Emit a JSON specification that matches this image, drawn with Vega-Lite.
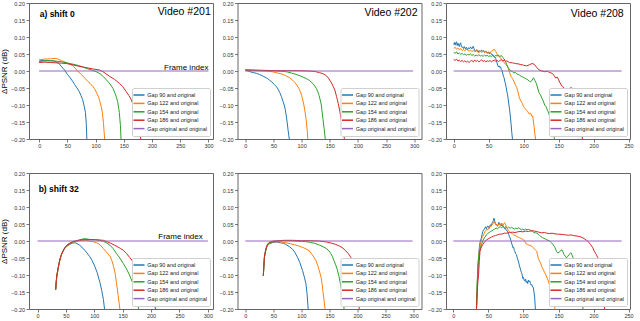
{
"$schema": "https://vega.github.io/schema/vega-lite/v6.json",
"background": "white",
"padding": {"left": 0, "top": 0, "right": 0, "bottom": 0},
"config": {
  "font": "Liberation Sans",
  "view": {"stroke": "#666", "strokeWidth": 1},
  "axis": {"grid": false, "domain": false, "tickSize": 3, "tickColor": "#555", "tickWidth": 0.8, "labelFontSize": 5.5, "labelColor": "#333", "labelPadding": 1.5, "labelFlush": false, "labelOverlap": false, "titleFontSize": 8, "titleFontWeight": "normal", "titleColor": "#000", "titlePadding": 2},
  "legend": {"orient": "bottom-right", "offset": 3, "title": null, "symbolType": "M-1.7,0H1.7", "symbolSize": 42, "symbolStrokeWidth": 1.5, "labelFontSize": 5.5, "labelOffset": 4.3, "rowPadding": 0.4, "padding": 3, "fillColor": "white", "strokeColor": "#d0d0d0", "cornerRadius": 1.5, "labelColor": "#222", "labelLimit": 200}
},
"datasets": {
"p1": [
{"gap":"90","frame":0,"dpsnr":0.029},{"gap":"90","frame":5,"dpsnr":0.031},{"gap":"90","frame":10,"dpsnr":0.030},{"gap":"90","frame":15,"dpsnr":0.031},{"gap":"90","frame":20,"dpsnr":0.030},{"gap":"90","frame":25,"dpsnr":0.030},{"gap":"90","frame":30,"dpsnr":0.027},{"gap":"90","frame":35,"dpsnr":0.022},{"gap":"90","frame":40,"dpsnr":0.012},{"gap":"90","frame":45,"dpsnr":0.003},{"gap":"90","frame":50,"dpsnr":-0.010},{"gap":"90","frame":55,"dpsnr":-0.020},{"gap":"90","frame":60,"dpsnr":-0.032},{"gap":"90","frame":63,"dpsnr":-0.040},{"gap":"90","frame":67,"dpsnr":-0.050},{"gap":"90","frame":71,"dpsnr":-0.060},{"gap":"90","frame":74,"dpsnr":-0.072},{"gap":"90","frame":77,"dpsnr":-0.084},{"gap":"90","frame":80,"dpsnr":-0.105},{"gap":"90","frame":82,"dpsnr":-0.122},{"gap":"90","frame":83.5,"dpsnr":-0.155},{"gap":"90","frame":84.5,"dpsnr":-0.2},
{"gap":"122","frame":0,"dpsnr":0.033},{"gap":"122","frame":10,"dpsnr":0.035},{"gap":"122","frame":20,"dpsnr":0.036},{"gap":"122","frame":30,"dpsnr":0.037},{"gap":"122","frame":35,"dpsnr":0.034},{"gap":"122","frame":40,"dpsnr":0.030},{"gap":"122","frame":50,"dpsnr":0.024},{"gap":"122","frame":55,"dpsnr":0.020},{"gap":"122","frame":60,"dpsnr":0.015},{"gap":"122","frame":65,"dpsnr":0.006},{"gap":"122","frame":68,"dpsnr":0.0},{"gap":"122","frame":75,"dpsnr":-0.010},{"gap":"122","frame":80,"dpsnr":-0.020},{"gap":"122","frame":85,"dpsnr":-0.028},{"gap":"122","frame":90,"dpsnr":-0.036},{"gap":"122","frame":95,"dpsnr":-0.045},{"gap":"122","frame":98,"dpsnr":-0.052},{"gap":"122","frame":102,"dpsnr":-0.065},{"gap":"122","frame":105,"dpsnr":-0.076},{"gap":"122","frame":107,"dpsnr":-0.086},{"gap":"122","frame":110,"dpsnr":-0.105},{"gap":"122","frame":112,"dpsnr":-0.122},{"gap":"122","frame":114,"dpsnr":-0.155},{"gap":"122","frame":116,"dpsnr":-0.2},
{"gap":"154","frame":0,"dpsnr":0.028},{"gap":"154","frame":10,"dpsnr":0.030},{"gap":"154","frame":20,"dpsnr":0.030},{"gap":"154","frame":30,"dpsnr":0.029},{"gap":"154","frame":40,"dpsnr":0.027},{"gap":"154","frame":48,"dpsnr":0.024},{"gap":"154","frame":60,"dpsnr":0.020},{"gap":"154","frame":70,"dpsnr":0.016},{"gap":"154","frame":77,"dpsnr":0.012},{"gap":"154","frame":85,"dpsnr":0.007},{"gap":"154","frame":93,"dpsnr":0.003},{"gap":"154","frame":101,"dpsnr":-0.002},{"gap":"154","frame":108,"dpsnr":-0.008},{"gap":"154","frame":114,"dpsnr":-0.017},{"gap":"154","frame":119,"dpsnr":-0.026},{"gap":"154","frame":124,"dpsnr":-0.035},{"gap":"154","frame":128,"dpsnr":-0.044},{"gap":"154","frame":131,"dpsnr":-0.052},{"gap":"154","frame":134,"dpsnr":-0.064},{"gap":"154","frame":137,"dpsnr":-0.078},{"gap":"154","frame":139,"dpsnr":-0.090},{"gap":"154","frame":141,"dpsnr":-0.110},{"gap":"154","frame":142,"dpsnr":-0.122},{"gap":"154","frame":144,"dpsnr":-0.16},{"gap":"154","frame":145,"dpsnr":-0.2},
{"gap":"186","frame":0,"dpsnr":0.025},{"gap":"186","frame":10,"dpsnr":0.026},{"gap":"186","frame":20,"dpsnr":0.025},{"gap":"186","frame":30,"dpsnr":0.024},{"gap":"186","frame":40,"dpsnr":0.023},{"gap":"186","frame":48,"dpsnr":0.022},{"gap":"186","frame":60,"dpsnr":0.018},{"gap":"186","frame":70,"dpsnr":0.014},{"gap":"186","frame":83,"dpsnr":0.010},{"gap":"186","frame":95,"dpsnr":0.006},{"gap":"186","frame":107,"dpsnr":0.003},{"gap":"186","frame":115,"dpsnr":-0.004},{"gap":"186","frame":120,"dpsnr":-0.010},{"gap":"186","frame":125,"dpsnr":-0.016},{"gap":"186","frame":133,"dpsnr":-0.024},{"gap":"186","frame":142,"dpsnr":-0.036},{"gap":"186","frame":148,"dpsnr":-0.046},{"gap":"186","frame":154,"dpsnr":-0.060},{"gap":"186","frame":159,"dpsnr":-0.072},{"gap":"186","frame":163,"dpsnr":-0.084},{"gap":"186","frame":168,"dpsnr":-0.105},{"gap":"186","frame":172,"dpsnr":-0.13},{"gap":"186","frame":176,"dpsnr":-0.16},{"gap":"186","frame":180,"dpsnr":-0.2},
{"gap":"original","frame":0,"dpsnr":0},{"gap":"original","frame":100,"dpsnr":0},{"gap":"original","frame":200,"dpsnr":0},{"gap":"original","frame":300,"dpsnr":0}
],
"p2": [
{"gap":"90","frame":0,"dpsnr":0.002},{"gap":"90","frame":5,"dpsnr":0.0},{"gap":"90","frame":10,"dpsnr":-0.003},{"gap":"90","frame":15,"dpsnr":-0.005},{"gap":"90","frame":20,"dpsnr":-0.007},{"gap":"90","frame":25,"dpsnr":-0.010},{"gap":"90","frame":30,"dpsnr":-0.014},{"gap":"90","frame":35,"dpsnr":-0.018},{"gap":"90","frame":40,"dpsnr":-0.023},{"gap":"90","frame":43,"dpsnr":-0.027},{"gap":"90","frame":47,"dpsnr":-0.032},{"gap":"90","frame":51,"dpsnr":-0.039},{"gap":"90","frame":55,"dpsnr":-0.046},{"gap":"90","frame":58,"dpsnr":-0.053},{"gap":"90","frame":61,"dpsnr":-0.063},{"gap":"90","frame":64,"dpsnr":-0.075},{"gap":"90","frame":67,"dpsnr":-0.090},{"gap":"90","frame":69,"dpsnr":-0.100},{"gap":"90","frame":71,"dpsnr":-0.114},{"gap":"90","frame":73,"dpsnr":-0.135},{"gap":"90","frame":75,"dpsnr":-0.162},{"gap":"90","frame":76,"dpsnr":-0.175},{"gap":"90","frame":78,"dpsnr":-0.2},
{"gap":"122","frame":0,"dpsnr":0.003},{"gap":"122","frame":10,"dpsnr":0.002},{"gap":"122","frame":20,"dpsnr":0.001},{"gap":"122","frame":30,"dpsnr":0.0},{"gap":"122","frame":43,"dpsnr":-0.001},{"gap":"122","frame":50,"dpsnr":-0.003},{"gap":"122","frame":55,"dpsnr":-0.005},{"gap":"122","frame":60,"dpsnr":-0.007},{"gap":"122","frame":67,"dpsnr":-0.010},{"gap":"122","frame":72,"dpsnr":-0.014},{"gap":"122","frame":78,"dpsnr":-0.019},{"gap":"122","frame":84,"dpsnr":-0.027},{"gap":"122","frame":88,"dpsnr":-0.034},{"gap":"122","frame":92,"dpsnr":-0.043},{"gap":"122","frame":95,"dpsnr":-0.051},{"gap":"122","frame":98,"dpsnr":-0.062},{"gap":"122","frame":100,"dpsnr":-0.072},{"gap":"122","frame":102,"dpsnr":-0.085},{"gap":"122","frame":104,"dpsnr":-0.100},{"gap":"122","frame":106,"dpsnr":-0.120},{"gap":"122","frame":108,"dpsnr":-0.143},{"gap":"122","frame":110,"dpsnr":-0.175},{"gap":"122","frame":111,"dpsnr":-0.2},
{"gap":"154","frame":0,"dpsnr":0.003},{"gap":"154","frame":20,"dpsnr":0.002},{"gap":"154","frame":40,"dpsnr":0.001},{"gap":"154","frame":55,"dpsnr":0.0},{"gap":"154","frame":67,"dpsnr":-0.001},{"gap":"154","frame":75,"dpsnr":-0.003},{"gap":"154","frame":82,"dpsnr":-0.006},{"gap":"154","frame":90,"dpsnr":-0.010},{"gap":"154","frame":97,"dpsnr":-0.014},{"gap":"154","frame":104,"dpsnr":-0.019},{"gap":"154","frame":110,"dpsnr":-0.024},{"gap":"154","frame":114,"dpsnr":-0.028},{"gap":"154","frame":118,"dpsnr":-0.034},{"gap":"154","frame":122,"dpsnr":-0.041},{"gap":"154","frame":126,"dpsnr":-0.051},{"gap":"154","frame":129,"dpsnr":-0.062},{"gap":"154","frame":131,"dpsnr":-0.072},{"gap":"154","frame":133,"dpsnr":-0.085},{"gap":"154","frame":135,"dpsnr":-0.100},{"gap":"154","frame":136,"dpsnr":-0.115},{"gap":"154","frame":138,"dpsnr":-0.143},{"gap":"154","frame":140,"dpsnr":-0.17},{"gap":"154","frame":142,"dpsnr":-0.2},
{"gap":"186","frame":0,"dpsnr":0.003},{"gap":"186","frame":30,"dpsnr":0.002},{"gap":"186","frame":60,"dpsnr":0.001},{"gap":"186","frame":90,"dpsnr":0.001},{"gap":"186","frame":114,"dpsnr":0.0},{"gap":"186","frame":125,"dpsnr":-0.002},{"gap":"186","frame":132,"dpsnr":-0.005},{"gap":"186","frame":138,"dpsnr":-0.008},{"gap":"186","frame":143,"dpsnr":-0.013},{"gap":"186","frame":147,"dpsnr":-0.019},{"gap":"186","frame":150,"dpsnr":-0.027},{"gap":"186","frame":153,"dpsnr":-0.035},{"gap":"186","frame":156,"dpsnr":-0.045},{"gap":"186","frame":159,"dpsnr":-0.056},{"gap":"186","frame":162,"dpsnr":-0.075},{"gap":"186","frame":165,"dpsnr":-0.095},{"gap":"186","frame":168,"dpsnr":-0.12},{"gap":"186","frame":171,"dpsnr":-0.15},{"gap":"186","frame":174,"dpsnr":-0.18},{"gap":"186","frame":176,"dpsnr":-0.2},
{"gap":"original","frame":0,"dpsnr":0},{"gap":"original","frame":100,"dpsnr":0},{"gap":"original","frame":200,"dpsnr":0},{"gap":"original","frame":298,"dpsnr":0}
],
"p3": [
{"gap":"90","frame":0,"dpsnr":0.078},{"gap":"90","frame":1,"dpsnr":0.084},{"gap":"90","frame":2,"dpsnr":0.076},{"gap":"90","frame":3,"dpsnr":0.083},{"gap":"90","frame":4,"dpsnr":0.086},{"gap":"90","frame":5,"dpsnr":0.075},{"gap":"90","frame":6,"dpsnr":0.082},{"gap":"90","frame":8,"dpsnr":0.072},{"gap":"90","frame":9,"dpsnr":0.080},{"gap":"90","frame":10,"dpsnr":0.083},{"gap":"90","frame":11,"dpsnr":0.071},{"gap":"90","frame":13,"dpsnr":0.070},{"gap":"90","frame":14,"dpsnr":0.066},{"gap":"90","frame":15,"dpsnr":0.072},{"gap":"90","frame":17,"dpsnr":0.064},{"gap":"90","frame":18,"dpsnr":0.070},{"gap":"90","frame":20,"dpsnr":0.063},{"gap":"90","frame":21,"dpsnr":0.068},{"gap":"90","frame":23,"dpsnr":0.066},{"gap":"90","frame":24,"dpsnr":0.071},{"gap":"90","frame":26,"dpsnr":0.065},{"gap":"90","frame":28,"dpsnr":0.073},{"gap":"90","frame":29,"dpsnr":0.066},{"gap":"90","frame":30,"dpsnr":0.060},{"gap":"90","frame":32,"dpsnr":0.058},{"gap":"90","frame":33,"dpsnr":0.063},{"gap":"90","frame":35,"dpsnr":0.055},{"gap":"90","frame":36,"dpsnr":0.060},{"gap":"90","frame":38,"dpsnr":0.057},{"gap":"90","frame":40,"dpsnr":0.062},{"gap":"90","frame":41,"dpsnr":0.056},{"gap":"90","frame":43,"dpsnr":0.060},{"gap":"90","frame":44,"dpsnr":0.054},{"gap":"90","frame":46,"dpsnr":0.059},{"gap":"90","frame":48,"dpsnr":0.052},{"gap":"90","frame":49,"dpsnr":0.056},{"gap":"90","frame":51,"dpsnr":0.050},{"gap":"90","frame":52,"dpsnr":0.054},{"gap":"90","frame":54,"dpsnr":0.051},{"gap":"90","frame":55,"dpsnr":0.046},{"gap":"90","frame":56,"dpsnr":0.048},{"gap":"90","frame":58,"dpsnr":0.040},{"gap":"90","frame":59,"dpsnr":0.042},{"gap":"90","frame":60,"dpsnr":0.037},{"gap":"90","frame":61,"dpsnr":0.030},{"gap":"90","frame":62,"dpsnr":0.024},{"gap":"90","frame":63,"dpsnr":0.016},{"gap":"90","frame":64,"dpsnr":0.012},{"gap":"90","frame":65,"dpsnr":0.015},{"gap":"90","frame":66,"dpsnr":0.010},{"gap":"90","frame":67,"dpsnr":0.012},{"gap":"90","frame":68,"dpsnr":0.005},{"gap":"90","frame":69,"dpsnr":0.002},{"gap":"90","frame":70,"dpsnr":-0.006},{"gap":"90","frame":71,"dpsnr":-0.015},{"gap":"90","frame":72,"dpsnr":-0.020},{"gap":"90","frame":73,"dpsnr":-0.030},{"gap":"90","frame":74,"dpsnr":-0.038},{"gap":"90","frame":75,"dpsnr":-0.048},{"gap":"90","frame":76,"dpsnr":-0.060},{"gap":"90","frame":77,"dpsnr":-0.070},{"gap":"90","frame":78,"dpsnr":-0.085},{"gap":"90","frame":79,"dpsnr":-0.100},{"gap":"90","frame":80,"dpsnr":-0.115},{"gap":"90","frame":81,"dpsnr":-0.135},{"gap":"90","frame":82,"dpsnr":-0.155},{"gap":"90","frame":83,"dpsnr":-0.180},{"gap":"90","frame":84,"dpsnr":-0.2},
{"gap":"122","frame":0,"dpsnr":0.066},{"gap":"122","frame":2,"dpsnr":0.070},{"gap":"122","frame":4,"dpsnr":0.064},{"gap":"122","frame":6,"dpsnr":0.068},{"gap":"122","frame":8,"dpsnr":0.062},{"gap":"122","frame":10,"dpsnr":0.066},{"gap":"122","frame":12,"dpsnr":0.060},{"gap":"122","frame":14,"dpsnr":0.063},{"gap":"122","frame":16,"dpsnr":0.059},{"gap":"122","frame":18,"dpsnr":0.064},{"gap":"122","frame":20,"dpsnr":0.061},{"gap":"122","frame":22,"dpsnr":0.058},{"gap":"122","frame":24,"dpsnr":0.062},{"gap":"122","frame":26,"dpsnr":0.057},{"gap":"122","frame":28,"dpsnr":0.060},{"gap":"122","frame":30,"dpsnr":0.056},{"gap":"122","frame":32,"dpsnr":0.061},{"gap":"122","frame":34,"dpsnr":0.057},{"gap":"122","frame":36,"dpsnr":0.054},{"gap":"122","frame":38,"dpsnr":0.058},{"gap":"122","frame":40,"dpsnr":0.055},{"gap":"122","frame":42,"dpsnr":0.060},{"gap":"122","frame":44,"dpsnr":0.054},{"gap":"122","frame":46,"dpsnr":0.057},{"gap":"122","frame":48,"dpsnr":0.053},{"gap":"122","frame":50,"dpsnr":0.056},{"gap":"122","frame":52,"dpsnr":0.054},{"gap":"122","frame":54,"dpsnr":0.058},{"gap":"122","frame":56,"dpsnr":0.061},{"gap":"122","frame":58,"dpsnr":0.064},{"gap":"122","frame":60,"dpsnr":0.058},{"gap":"122","frame":62,"dpsnr":0.050},{"gap":"122","frame":64,"dpsnr":0.043},{"gap":"122","frame":66,"dpsnr":0.040},{"gap":"122","frame":68,"dpsnr":0.036},{"gap":"122","frame":70,"dpsnr":0.030},{"gap":"122","frame":72,"dpsnr":0.025},{"gap":"122","frame":74,"dpsnr":0.020},{"gap":"122","frame":76,"dpsnr":0.017},{"gap":"122","frame":78,"dpsnr":0.008},{"gap":"122","frame":80,"dpsnr":-0.005},{"gap":"122","frame":82,"dpsnr":-0.016},{"gap":"122","frame":84,"dpsnr":-0.022},{"gap":"122","frame":86,"dpsnr":-0.030},{"gap":"122","frame":88,"dpsnr":-0.040},{"gap":"122","frame":90,"dpsnr":-0.048},{"gap":"122","frame":92,"dpsnr":-0.062},{"gap":"122","frame":94,"dpsnr":-0.080},{"gap":"122","frame":96,"dpsnr":-0.088},{"gap":"122","frame":98,"dpsnr":-0.095},{"gap":"122","frame":100,"dpsnr":-0.105},{"gap":"122","frame":102,"dpsnr":-0.110},{"gap":"122","frame":104,"dpsnr":-0.115},{"gap":"122","frame":106,"dpsnr":-0.120},{"gap":"122","frame":108,"dpsnr":-0.127},{"gap":"122","frame":110,"dpsnr":-0.124},{"gap":"122","frame":112,"dpsnr":-0.134},{"gap":"122","frame":113,"dpsnr":-0.132},{"gap":"122","frame":114,"dpsnr":-0.150},{"gap":"122","frame":115,"dpsnr":-0.165},{"gap":"122","frame":116,"dpsnr":-0.185},{"gap":"122","frame":117,"dpsnr":-0.2},
{"gap":"154","frame":0,"dpsnr":0.055},{"gap":"154","frame":2,"dpsnr":0.052},{"gap":"154","frame":4,"dpsnr":0.056},{"gap":"154","frame":6,"dpsnr":0.050},{"gap":"154","frame":8,"dpsnr":0.053},{"gap":"154","frame":10,"dpsnr":0.049},{"gap":"154","frame":12,"dpsnr":0.052},{"gap":"154","frame":14,"dpsnr":0.048},{"gap":"154","frame":16,"dpsnr":0.050},{"gap":"154","frame":18,"dpsnr":0.046},{"gap":"154","frame":20,"dpsnr":0.049},{"gap":"154","frame":22,"dpsnr":0.047},{"gap":"154","frame":24,"dpsnr":0.050},{"gap":"154","frame":26,"dpsnr":0.046},{"gap":"154","frame":28,"dpsnr":0.048},{"gap":"154","frame":30,"dpsnr":0.044},{"gap":"154","frame":32,"dpsnr":0.047},{"gap":"154","frame":34,"dpsnr":0.045},{"gap":"154","frame":36,"dpsnr":0.048},{"gap":"154","frame":38,"dpsnr":0.044},{"gap":"154","frame":40,"dpsnr":0.046},{"gap":"154","frame":42,"dpsnr":0.043},{"gap":"154","frame":44,"dpsnr":0.047},{"gap":"154","frame":46,"dpsnr":0.044},{"gap":"154","frame":48,"dpsnr":0.046},{"gap":"154","frame":50,"dpsnr":0.043},{"gap":"154","frame":52,"dpsnr":0.045},{"gap":"154","frame":54,"dpsnr":0.042},{"gap":"154","frame":56,"dpsnr":0.046},{"gap":"154","frame":58,"dpsnr":0.043},{"gap":"154","frame":60,"dpsnr":0.046},{"gap":"154","frame":62,"dpsnr":0.044},{"gap":"154","frame":64,"dpsnr":0.047},{"gap":"154","frame":66,"dpsnr":0.042},{"gap":"154","frame":68,"dpsnr":0.046},{"gap":"154","frame":70,"dpsnr":0.040},{"gap":"154","frame":72,"dpsnr":0.036},{"gap":"154","frame":74,"dpsnr":0.028},{"gap":"154","frame":76,"dpsnr":0.018},{"gap":"154","frame":78,"dpsnr":0.010},{"gap":"154","frame":80,"dpsnr":0.003},{"gap":"154","frame":82,"dpsnr":0.000},{"gap":"154","frame":84,"dpsnr":-0.002},{"gap":"154","frame":86,"dpsnr":-0.006},{"gap":"154","frame":88,"dpsnr":-0.004},{"gap":"154","frame":90,"dpsnr":-0.008},{"gap":"154","frame":92,"dpsnr":-0.010},{"gap":"154","frame":94,"dpsnr":-0.012},{"gap":"154","frame":96,"dpsnr":-0.015},{"gap":"154","frame":98,"dpsnr":-0.017},{"gap":"154","frame":100,"dpsnr":-0.019},{"gap":"154","frame":102,"dpsnr":-0.021},{"gap":"154","frame":104,"dpsnr":-0.024},{"gap":"154","frame":106,"dpsnr":-0.026},{"gap":"154","frame":108,"dpsnr":-0.030},{"gap":"154","frame":110,"dpsnr":-0.032},{"gap":"154","frame":112,"dpsnr":-0.027},{"gap":"154","frame":114,"dpsnr":-0.020},{"gap":"154","frame":116,"dpsnr":-0.028},{"gap":"154","frame":118,"dpsnr":-0.036},{"gap":"154","frame":120,"dpsnr":-0.050},{"gap":"154","frame":122,"dpsnr":-0.064},{"gap":"154","frame":124,"dpsnr":-0.070},{"gap":"154","frame":126,"dpsnr":-0.080},{"gap":"154","frame":128,"dpsnr":-0.088},{"gap":"154","frame":130,"dpsnr":-0.100},{"gap":"154","frame":132,"dpsnr":-0.105},{"gap":"154","frame":134,"dpsnr":-0.115},{"gap":"154","frame":136,"dpsnr":-0.125},{"gap":"154","frame":138,"dpsnr":-0.14},{"gap":"154","frame":140,"dpsnr":-0.155},{"gap":"154","frame":142,"dpsnr":-0.175},{"gap":"154","frame":144,"dpsnr":-0.2},
{"gap":"186","frame":0,"dpsnr":0.034},{"gap":"186","frame":2,"dpsnr":0.031},{"gap":"186","frame":4,"dpsnr":0.035},{"gap":"186","frame":6,"dpsnr":0.029},{"gap":"186","frame":8,"dpsnr":0.032},{"gap":"186","frame":10,"dpsnr":0.028},{"gap":"186","frame":12,"dpsnr":0.031},{"gap":"186","frame":14,"dpsnr":0.027},{"gap":"186","frame":16,"dpsnr":0.030},{"gap":"186","frame":18,"dpsnr":0.026},{"gap":"186","frame":20,"dpsnr":0.029},{"gap":"186","frame":22,"dpsnr":0.025},{"gap":"186","frame":24,"dpsnr":0.029},{"gap":"186","frame":26,"dpsnr":0.031},{"gap":"186","frame":28,"dpsnr":0.027},{"gap":"186","frame":30,"dpsnr":0.032},{"gap":"186","frame":32,"dpsnr":0.028},{"gap":"186","frame":34,"dpsnr":0.031},{"gap":"186","frame":36,"dpsnr":0.027},{"gap":"186","frame":38,"dpsnr":0.030},{"gap":"186","frame":40,"dpsnr":0.033},{"gap":"186","frame":42,"dpsnr":0.028},{"gap":"186","frame":44,"dpsnr":0.031},{"gap":"186","frame":46,"dpsnr":0.027},{"gap":"186","frame":48,"dpsnr":0.030},{"gap":"186","frame":50,"dpsnr":0.028},{"gap":"186","frame":52,"dpsnr":0.031},{"gap":"186","frame":54,"dpsnr":0.027},{"gap":"186","frame":56,"dpsnr":0.030},{"gap":"186","frame":58,"dpsnr":0.032},{"gap":"186","frame":60,"dpsnr":0.029},{"gap":"186","frame":62,"dpsnr":0.031},{"gap":"186","frame":64,"dpsnr":0.028},{"gap":"186","frame":66,"dpsnr":0.031},{"gap":"186","frame":68,"dpsnr":0.033},{"gap":"186","frame":70,"dpsnr":0.030},{"gap":"186","frame":72,"dpsnr":0.032},{"gap":"186","frame":74,"dpsnr":0.028},{"gap":"186","frame":76,"dpsnr":0.030},{"gap":"186","frame":78,"dpsnr":0.027},{"gap":"186","frame":80,"dpsnr":0.025},{"gap":"186","frame":84,"dpsnr":0.024},{"gap":"186","frame":88,"dpsnr":0.022},{"gap":"186","frame":92,"dpsnr":0.021},{"gap":"186","frame":96,"dpsnr":0.019},{"gap":"186","frame":100,"dpsnr":0.017},{"gap":"186","frame":104,"dpsnr":0.015},{"gap":"186","frame":108,"dpsnr":0.018},{"gap":"186","frame":112,"dpsnr":0.022},{"gap":"186","frame":115,"dpsnr":0.020},{"gap":"186","frame":118,"dpsnr":0.012},{"gap":"186","frame":122,"dpsnr":0.003},{"gap":"186","frame":126,"dpsnr":0.000},{"gap":"186","frame":130,"dpsnr":-0.002},{"gap":"186","frame":134,"dpsnr":-0.001},{"gap":"186","frame":138,"dpsnr":-0.005},{"gap":"186","frame":141,"dpsnr":-0.007},{"gap":"186","frame":144,"dpsnr":-0.015},{"gap":"186","frame":146,"dpsnr":-0.021},{"gap":"186","frame":148,"dpsnr":-0.018},{"gap":"186","frame":150,"dpsnr":-0.026},{"gap":"186","frame":152,"dpsnr":-0.035},{"gap":"186","frame":155,"dpsnr":-0.045},{"gap":"186","frame":158,"dpsnr":-0.050},{"gap":"186","frame":160,"dpsnr":-0.055},{"gap":"186","frame":163,"dpsnr":-0.058},{"gap":"186","frame":166,"dpsnr":-0.052},{"gap":"186","frame":168,"dpsnr":-0.048},{"gap":"186","frame":170,"dpsnr":-0.055},{"gap":"186","frame":172,"dpsnr":-0.053},{"gap":"186","frame":174,"dpsnr":-0.066},{"gap":"186","frame":176,"dpsnr":-0.080},{"gap":"186","frame":178,"dpsnr":-0.100},{"gap":"186","frame":180,"dpsnr":-0.13},{"gap":"186","frame":182,"dpsnr":-0.165},{"gap":"186","frame":184,"dpsnr":-0.2},
{"gap":"original","frame":0,"dpsnr":0},{"gap":"original","frame":120,"dpsnr":0},{"gap":"original","frame":240,"dpsnr":0}
],
"p4": [
{"gap":"90","frame":32,"dpsnr":-0.143},{"gap":"90","frame":33,"dpsnr":-0.120},{"gap":"90","frame":34,"dpsnr":-0.104},{"gap":"90","frame":36,"dpsnr":-0.085},{"gap":"90","frame":38,"dpsnr":-0.066},{"gap":"90","frame":40,"dpsnr":-0.052},{"gap":"90","frame":42,"dpsnr":-0.041},{"gap":"90","frame":45,"dpsnr":-0.030},{"gap":"90","frame":48,"dpsnr":-0.022},{"gap":"90","frame":52,"dpsnr":-0.015},{"gap":"90","frame":57,"dpsnr":-0.010},{"gap":"90","frame":62,"dpsnr":-0.006},{"gap":"90","frame":66,"dpsnr":-0.005},{"gap":"90","frame":70,"dpsnr":-0.008},{"gap":"90","frame":74,"dpsnr":-0.012},{"gap":"90","frame":78,"dpsnr":-0.018},{"gap":"90","frame":83,"dpsnr":-0.027},{"gap":"90","frame":87,"dpsnr":-0.035},{"gap":"90","frame":92,"dpsnr":-0.046},{"gap":"90","frame":96,"dpsnr":-0.057},{"gap":"90","frame":101,"dpsnr":-0.075},{"gap":"90","frame":105,"dpsnr":-0.093},{"gap":"90","frame":110,"dpsnr":-0.123},{"gap":"90","frame":113,"dpsnr":-0.145},{"gap":"90","frame":116,"dpsnr":-0.172},{"gap":"90","frame":118,"dpsnr":-0.2},
{"gap":"122","frame":32,"dpsnr":-0.143},{"gap":"122","frame":33,"dpsnr":-0.120},{"gap":"122","frame":34,"dpsnr":-0.104},{"gap":"122","frame":36,"dpsnr":-0.085},{"gap":"122","frame":38,"dpsnr":-0.066},{"gap":"122","frame":40,"dpsnr":-0.052},{"gap":"122","frame":42,"dpsnr":-0.041},{"gap":"122","frame":45,"dpsnr":-0.030},{"gap":"122","frame":48,"dpsnr":-0.021},{"gap":"122","frame":52,"dpsnr":-0.013},{"gap":"122","frame":57,"dpsnr":-0.008},{"gap":"122","frame":62,"dpsnr":-0.004},{"gap":"122","frame":68,"dpsnr":-0.001},{"gap":"122","frame":75,"dpsnr":0.001},{"gap":"122","frame":80,"dpsnr":0.002},{"gap":"122","frame":86,"dpsnr":0.002},{"gap":"122","frame":92,"dpsnr":0.000},{"gap":"122","frame":98,"dpsnr":-0.002},{"gap":"122","frame":104,"dpsnr":-0.005},{"gap":"122","frame":110,"dpsnr":-0.011},{"gap":"122","frame":116,"dpsnr":-0.022},{"gap":"122","frame":120,"dpsnr":-0.030},{"gap":"122","frame":124,"dpsnr":-0.038},{"gap":"122","frame":128,"dpsnr":-0.046},{"gap":"122","frame":131,"dpsnr":-0.058},{"gap":"122","frame":134,"dpsnr":-0.075},{"gap":"122","frame":137,"dpsnr":-0.098},{"gap":"122","frame":139,"dpsnr":-0.123},{"gap":"122","frame":142,"dpsnr":-0.160},{"gap":"122","frame":145,"dpsnr":-0.2},
{"gap":"154","frame":32,"dpsnr":-0.143},{"gap":"154","frame":33,"dpsnr":-0.119},{"gap":"154","frame":34,"dpsnr":-0.102},{"gap":"154","frame":36,"dpsnr":-0.083},{"gap":"154","frame":38,"dpsnr":-0.065},{"gap":"154","frame":40,"dpsnr":-0.051},{"gap":"154","frame":42,"dpsnr":-0.040},{"gap":"154","frame":45,"dpsnr":-0.029},{"gap":"154","frame":48,"dpsnr":-0.020},{"gap":"154","frame":52,"dpsnr":-0.012},{"gap":"154","frame":57,"dpsnr":-0.007},{"gap":"154","frame":62,"dpsnr":-0.003},{"gap":"154","frame":68,"dpsnr":0.000},{"gap":"154","frame":74,"dpsnr":0.003},{"gap":"154","frame":80,"dpsnr":0.006},{"gap":"154","frame":84,"dpsnr":0.007},{"gap":"154","frame":90,"dpsnr":0.005},{"gap":"154","frame":96,"dpsnr":0.004},{"gap":"154","frame":104,"dpsnr":0.003},{"gap":"154","frame":110,"dpsnr":0.002},{"gap":"154","frame":116,"dpsnr":-0.001},{"gap":"154","frame":122,"dpsnr":-0.006},{"gap":"154","frame":128,"dpsnr":-0.013},{"gap":"154","frame":133,"dpsnr":-0.022},{"gap":"154","frame":139,"dpsnr":-0.037},{"gap":"154","frame":145,"dpsnr":-0.050},{"gap":"154","frame":151,"dpsnr":-0.066},{"gap":"154","frame":156,"dpsnr":-0.080},{"gap":"154","frame":162,"dpsnr":-0.100},{"gap":"154","frame":168,"dpsnr":-0.125},{"gap":"154","frame":173,"dpsnr":-0.155},{"gap":"154","frame":178,"dpsnr":-0.2},
{"gap":"186","frame":32,"dpsnr":-0.143},{"gap":"186","frame":33,"dpsnr":-0.118},{"gap":"186","frame":34,"dpsnr":-0.100},{"gap":"186","frame":36,"dpsnr":-0.082},{"gap":"186","frame":38,"dpsnr":-0.064},{"gap":"186","frame":40,"dpsnr":-0.050},{"gap":"186","frame":42,"dpsnr":-0.040},{"gap":"186","frame":45,"dpsnr":-0.029},{"gap":"186","frame":48,"dpsnr":-0.020},{"gap":"186","frame":52,"dpsnr":-0.012},{"gap":"186","frame":57,"dpsnr":-0.006},{"gap":"186","frame":62,"dpsnr":-0.002},{"gap":"186","frame":68,"dpsnr":0.001},{"gap":"186","frame":75,"dpsnr":0.003},{"gap":"186","frame":82,"dpsnr":0.004},{"gap":"186","frame":92,"dpsnr":0.004},{"gap":"186","frame":100,"dpsnr":0.004},{"gap":"186","frame":108,"dpsnr":0.003},{"gap":"186","frame":116,"dpsnr":0.002},{"gap":"186","frame":122,"dpsnr":-0.002},{"gap":"186","frame":128,"dpsnr":-0.006},{"gap":"186","frame":133,"dpsnr":-0.010},{"gap":"186","frame":140,"dpsnr":-0.016},{"gap":"186","frame":146,"dpsnr":-0.022},{"gap":"186","frame":151,"dpsnr":-0.027},{"gap":"186","frame":157,"dpsnr":-0.037},{"gap":"186","frame":162,"dpsnr":-0.048},{"gap":"186","frame":166,"dpsnr":-0.056},{"gap":"186","frame":172,"dpsnr":-0.070},{"gap":"186","frame":178,"dpsnr":-0.085},{"gap":"186","frame":185,"dpsnr":-0.105},{"gap":"186","frame":192,"dpsnr":-0.13},{"gap":"186","frame":198,"dpsnr":-0.15},{"gap":"186","frame":203,"dpsnr":-0.175},{"gap":"186","frame":208,"dpsnr":-0.2},
{"gap":"original","frame":0,"dpsnr":0},{"gap":"original","frame":100,"dpsnr":0},{"gap":"original","frame":200,"dpsnr":0},{"gap":"original","frame":300,"dpsnr":0}
],
"p5": [
{"gap":"90","frame":32,"dpsnr":-0.102},{"gap":"90","frame":33,"dpsnr":-0.075},{"gap":"90","frame":34,"dpsnr":-0.048},{"gap":"90","frame":36,"dpsnr":-0.030},{"gap":"90","frame":38,"dpsnr":-0.019},{"gap":"90","frame":40,"dpsnr":-0.012},{"gap":"90","frame":43,"dpsnr":-0.008},{"gap":"90","frame":48,"dpsnr":-0.005},{"gap":"90","frame":55,"dpsnr":-0.003},{"gap":"90","frame":62,"dpsnr":-0.005},{"gap":"90","frame":68,"dpsnr":-0.007},{"gap":"90","frame":72,"dpsnr":-0.010},{"gap":"90","frame":78,"dpsnr":-0.016},{"gap":"90","frame":84,"dpsnr":-0.024},{"gap":"90","frame":88,"dpsnr":-0.033},{"gap":"90","frame":93,"dpsnr":-0.048},{"gap":"90","frame":97,"dpsnr":-0.063},{"gap":"90","frame":102,"dpsnr":-0.087},{"gap":"90","frame":105,"dpsnr":-0.105},{"gap":"90","frame":108,"dpsnr":-0.126},{"gap":"90","frame":110,"dpsnr":-0.155},{"gap":"90","frame":112,"dpsnr":-0.2},
{"gap":"122","frame":32,"dpsnr":-0.102},{"gap":"122","frame":33,"dpsnr":-0.075},{"gap":"122","frame":34,"dpsnr":-0.048},{"gap":"122","frame":36,"dpsnr":-0.030},{"gap":"122","frame":38,"dpsnr":-0.018},{"gap":"122","frame":40,"dpsnr":-0.011},{"gap":"122","frame":44,"dpsnr":-0.006},{"gap":"122","frame":49,"dpsnr":-0.003},{"gap":"122","frame":56,"dpsnr":-0.002},{"gap":"122","frame":64,"dpsnr":-0.003},{"gap":"122","frame":72,"dpsnr":-0.005},{"gap":"122","frame":80,"dpsnr":-0.008},{"gap":"122","frame":88,"dpsnr":-0.011},{"gap":"122","frame":96,"dpsnr":-0.015},{"gap":"122","frame":104,"dpsnr":-0.020},{"gap":"122","frame":110,"dpsnr":-0.025},{"gap":"122","frame":114,"dpsnr":-0.029},{"gap":"122","frame":118,"dpsnr":-0.038},{"gap":"122","frame":122,"dpsnr":-0.047},{"gap":"122","frame":126,"dpsnr":-0.058},{"gap":"122","frame":129,"dpsnr":-0.072},{"gap":"122","frame":132,"dpsnr":-0.088},{"gap":"122","frame":135,"dpsnr":-0.107},{"gap":"122","frame":137,"dpsnr":-0.128},{"gap":"122","frame":138,"dpsnr":-0.145},{"gap":"122","frame":140,"dpsnr":-0.170},{"gap":"122","frame":142,"dpsnr":-0.2},
{"gap":"154","frame":32,"dpsnr":-0.102},{"gap":"154","frame":33,"dpsnr":-0.074},{"gap":"154","frame":34,"dpsnr":-0.047},{"gap":"154","frame":36,"dpsnr":-0.029},{"gap":"154","frame":38,"dpsnr":-0.017},{"gap":"154","frame":40,"dpsnr":-0.010},{"gap":"154","frame":44,"dpsnr":-0.005},{"gap":"154","frame":50,"dpsnr":-0.002},{"gap":"154","frame":58,"dpsnr":0.0},{"gap":"154","frame":66,"dpsnr":0.001},{"gap":"154","frame":76,"dpsnr":0.001},{"gap":"154","frame":88,"dpsnr":0.0},{"gap":"154","frame":100,"dpsnr":-0.001},{"gap":"154","frame":108,"dpsnr":-0.002},{"gap":"154","frame":116,"dpsnr":-0.004},{"gap":"154","frame":124,"dpsnr":-0.007},{"gap":"154","frame":132,"dpsnr":-0.012},{"gap":"154","frame":140,"dpsnr":-0.018},{"gap":"154","frame":145,"dpsnr":-0.023},{"gap":"154","frame":149,"dpsnr":-0.029},{"gap":"154","frame":152,"dpsnr":-0.036},{"gap":"154","frame":155,"dpsnr":-0.045},{"gap":"154","frame":158,"dpsnr":-0.058},{"gap":"154","frame":161,"dpsnr":-0.070},{"gap":"154","frame":164,"dpsnr":-0.085},{"gap":"154","frame":167,"dpsnr":-0.105},{"gap":"154","frame":170,"dpsnr":-0.13},{"gap":"154","frame":173,"dpsnr":-0.16},{"gap":"154","frame":176,"dpsnr":-0.2},
{"gap":"186","frame":32,"dpsnr":-0.102},{"gap":"186","frame":33,"dpsnr":-0.073},{"gap":"186","frame":34,"dpsnr":-0.046},{"gap":"186","frame":36,"dpsnr":-0.027},{"gap":"186","frame":38,"dpsnr":-0.015},{"gap":"186","frame":40,"dpsnr":-0.008},{"gap":"186","frame":44,"dpsnr":-0.003},{"gap":"186","frame":50,"dpsnr":0.000},{"gap":"186","frame":60,"dpsnr":0.001},{"gap":"186","frame":70,"dpsnr":0.002},{"gap":"186","frame":84,"dpsnr":0.002},{"gap":"186","frame":100,"dpsnr":0.001},{"gap":"186","frame":116,"dpsnr":0.001},{"gap":"186","frame":132,"dpsnr":0.000},{"gap":"186","frame":145,"dpsnr":-0.003},{"gap":"186","frame":153,"dpsnr":-0.006},{"gap":"186","frame":161,"dpsnr":-0.010},{"gap":"186","frame":168,"dpsnr":-0.015},{"gap":"186","frame":174,"dpsnr":-0.021},{"gap":"186","frame":179,"dpsnr":-0.029},{"gap":"186","frame":184,"dpsnr":-0.038},{"gap":"186","frame":188,"dpsnr":-0.048},{"gap":"186","frame":191,"dpsnr":-0.058},{"gap":"186","frame":194,"dpsnr":-0.068},{"gap":"186","frame":197,"dpsnr":-0.085},{"gap":"186","frame":199,"dpsnr":-0.105},{"gap":"186","frame":201,"dpsnr":-0.14},{"gap":"186","frame":203,"dpsnr":-0.2},
{"gap":"original","frame":0,"dpsnr":0},{"gap":"original","frame":100,"dpsnr":0},{"gap":"original","frame":200,"dpsnr":0},{"gap":"original","frame":298,"dpsnr":0}
],
"p6": [
{"gap":"90","frame":33,"dpsnr":-0.2},{"gap":"90","frame":34,"dpsnr":-0.14},{"gap":"90","frame":35,"dpsnr":-0.088},{"gap":"90","frame":36,"dpsnr":-0.05},{"gap":"90","frame":37,"dpsnr":-0.020},{"gap":"90","frame":38,"dpsnr":-0.005},{"gap":"90","frame":39,"dpsnr":0.004},{"gap":"90","frame":40,"dpsnr":0.009},{"gap":"90","frame":41,"dpsnr":0.020},{"gap":"90","frame":42,"dpsnr":0.028},{"gap":"90","frame":43,"dpsnr":0.032},{"gap":"90","frame":44,"dpsnr":0.035},{"gap":"90","frame":45,"dpsnr":0.038},{"gap":"90","frame":46,"dpsnr":0.042},{"gap":"90","frame":47,"dpsnr":0.036},{"gap":"90","frame":48,"dpsnr":0.041},{"gap":"90","frame":49,"dpsnr":0.044},{"gap":"90","frame":50,"dpsnr":0.043},{"gap":"90","frame":51,"dpsnr":0.037},{"gap":"90","frame":52,"dpsnr":0.045},{"gap":"90","frame":53,"dpsnr":0.048},{"gap":"90","frame":54,"dpsnr":0.044},{"gap":"90","frame":55,"dpsnr":0.052},{"gap":"90","frame":56,"dpsnr":0.055},{"gap":"90","frame":57,"dpsnr":0.060},{"gap":"90","frame":58,"dpsnr":0.067},{"gap":"90","frame":59,"dpsnr":0.058},{"gap":"90","frame":60,"dpsnr":0.052},{"gap":"90","frame":61,"dpsnr":0.049},{"gap":"90","frame":62,"dpsnr":0.047},{"gap":"90","frame":63,"dpsnr":0.044},{"gap":"90","frame":64,"dpsnr":0.050},{"gap":"90","frame":65,"dpsnr":0.055},{"gap":"90","frame":66,"dpsnr":0.052},{"gap":"90","frame":67,"dpsnr":0.046},{"gap":"90","frame":68,"dpsnr":0.050},{"gap":"90","frame":69,"dpsnr":0.044},{"gap":"90","frame":70,"dpsnr":0.047},{"gap":"90","frame":71,"dpsnr":0.043},{"gap":"90","frame":72,"dpsnr":0.040},{"gap":"90","frame":73,"dpsnr":0.036},{"gap":"90","frame":74,"dpsnr":0.038},{"gap":"90","frame":75,"dpsnr":0.033},{"gap":"90","frame":77,"dpsnr":0.030},{"gap":"90","frame":78,"dpsnr":0.025},{"gap":"90","frame":79,"dpsnr":0.020},{"gap":"90","frame":80,"dpsnr":0.012},{"gap":"90","frame":81,"dpsnr":0.009},{"gap":"90","frame":82,"dpsnr":0.002},{"gap":"90","frame":83,"dpsnr":-0.006},{"gap":"90","frame":84,"dpsnr":-0.012},{"gap":"90","frame":85,"dpsnr":-0.020},{"gap":"90","frame":86,"dpsnr":-0.018},{"gap":"90","frame":87,"dpsnr":-0.028},{"gap":"90","frame":88,"dpsnr":-0.032},{"gap":"90","frame":89,"dpsnr":-0.038},{"gap":"90","frame":90,"dpsnr":-0.040},{"gap":"90","frame":91,"dpsnr":-0.048},{"gap":"90","frame":92,"dpsnr":-0.055},{"gap":"90","frame":93,"dpsnr":-0.062},{"gap":"90","frame":94,"dpsnr":-0.070},{"gap":"90","frame":95,"dpsnr":-0.078},{"gap":"90","frame":96,"dpsnr":-0.085},{"gap":"90","frame":97,"dpsnr":-0.092},{"gap":"90","frame":98,"dpsnr":-0.098},{"gap":"90","frame":99,"dpsnr":-0.110},{"gap":"90","frame":100,"dpsnr":-0.107},{"gap":"90","frame":101,"dpsnr":-0.115},{"gap":"90","frame":102,"dpsnr":-0.118},{"gap":"90","frame":103,"dpsnr":-0.112},{"gap":"90","frame":104,"dpsnr":-0.122},{"gap":"90","frame":105,"dpsnr":-0.118},{"gap":"90","frame":106,"dpsnr":-0.125},{"gap":"90","frame":107,"dpsnr":-0.115},{"gap":"90","frame":108,"dpsnr":-0.120},{"gap":"90","frame":109,"dpsnr":-0.117},{"gap":"90","frame":110,"dpsnr":-0.125},{"gap":"90","frame":111,"dpsnr":-0.130},{"gap":"90","frame":112,"dpsnr":-0.128},{"gap":"90","frame":113,"dpsnr":-0.135},{"gap":"90","frame":114,"dpsnr":-0.136},{"gap":"90","frame":115,"dpsnr":-0.150},{"gap":"90","frame":116,"dpsnr":-0.165},{"gap":"90","frame":117,"dpsnr":-0.2},
{"gap":"122","frame":33,"dpsnr":-0.2},{"gap":"122","frame":34,"dpsnr":-0.13},{"gap":"122","frame":35,"dpsnr":-0.078},{"gap":"122","frame":36,"dpsnr":-0.045},{"gap":"122","frame":37,"dpsnr":-0.030},{"gap":"122","frame":38,"dpsnr":-0.015},{"gap":"122","frame":39,"dpsnr":-0.005},{"gap":"122","frame":40,"dpsnr":0.002},{"gap":"122","frame":41,"dpsnr":0.010},{"gap":"122","frame":42,"dpsnr":0.014},{"gap":"122","frame":43,"dpsnr":0.018},{"gap":"122","frame":44,"dpsnr":0.022},{"gap":"122","frame":45,"dpsnr":0.027},{"gap":"122","frame":46,"dpsnr":0.030},{"gap":"122","frame":47,"dpsnr":0.033},{"gap":"122","frame":48,"dpsnr":0.035},{"gap":"122","frame":49,"dpsnr":0.032},{"gap":"122","frame":50,"dpsnr":0.038},{"gap":"122","frame":51,"dpsnr":0.040},{"gap":"122","frame":52,"dpsnr":0.044},{"gap":"122","frame":53,"dpsnr":0.041},{"gap":"122","frame":54,"dpsnr":0.045},{"gap":"122","frame":55,"dpsnr":0.047},{"gap":"122","frame":56,"dpsnr":0.050},{"gap":"122","frame":57,"dpsnr":0.055},{"gap":"122","frame":58,"dpsnr":0.052},{"gap":"122","frame":59,"dpsnr":0.057},{"gap":"122","frame":60,"dpsnr":0.050},{"gap":"122","frame":61,"dpsnr":0.046},{"gap":"122","frame":62,"dpsnr":0.049},{"gap":"122","frame":63,"dpsnr":0.043},{"gap":"122","frame":64,"dpsnr":0.047},{"gap":"122","frame":65,"dpsnr":0.050},{"gap":"122","frame":66,"dpsnr":0.047},{"gap":"122","frame":67,"dpsnr":0.051},{"gap":"122","frame":68,"dpsnr":0.048},{"gap":"122","frame":69,"dpsnr":0.053},{"gap":"122","frame":70,"dpsnr":0.049},{"gap":"122","frame":71,"dpsnr":0.046},{"gap":"122","frame":72,"dpsnr":0.050},{"gap":"122","frame":73,"dpsnr":0.054},{"gap":"122","frame":74,"dpsnr":0.052},{"gap":"122","frame":75,"dpsnr":0.046},{"gap":"122","frame":76,"dpsnr":0.040},{"gap":"122","frame":77,"dpsnr":0.036},{"gap":"122","frame":78,"dpsnr":0.033},{"gap":"122","frame":79,"dpsnr":0.030},{"gap":"122","frame":80,"dpsnr":0.028},{"gap":"122","frame":82,"dpsnr":0.024},{"gap":"122","frame":84,"dpsnr":0.022},{"gap":"122","frame":86,"dpsnr":0.018},{"gap":"122","frame":88,"dpsnr":0.016},{"gap":"122","frame":90,"dpsnr":0.014},{"gap":"122","frame":92,"dpsnr":0.012},{"gap":"122","frame":94,"dpsnr":0.010},{"gap":"122","frame":96,"dpsnr":0.008},{"gap":"122","frame":98,"dpsnr":0.006},{"gap":"122","frame":100,"dpsnr":0.004},{"gap":"122","frame":102,"dpsnr":-0.002},{"gap":"122","frame":104,"dpsnr":-0.009},{"gap":"122","frame":106,"dpsnr":-0.010},{"gap":"122","frame":108,"dpsnr":-0.013},{"gap":"122","frame":110,"dpsnr":-0.012},{"gap":"122","frame":111,"dpsnr":-0.015},{"gap":"122","frame":113,"dpsnr":-0.018},{"gap":"122","frame":115,"dpsnr":-0.022},{"gap":"122","frame":117,"dpsnr":-0.026},{"gap":"122","frame":119,"dpsnr":-0.030},{"gap":"122","frame":120,"dpsnr":-0.040},{"gap":"122","frame":121,"dpsnr":-0.050},{"gap":"122","frame":122,"dpsnr":-0.055},{"gap":"122","frame":123,"dpsnr":-0.059},{"gap":"122","frame":125,"dpsnr":-0.068},{"gap":"122","frame":126,"dpsnr":-0.075},{"gap":"122","frame":128,"dpsnr":-0.083},{"gap":"122","frame":130,"dpsnr":-0.092},{"gap":"122","frame":132,"dpsnr":-0.100},{"gap":"122","frame":135,"dpsnr":-0.115},{"gap":"122","frame":138,"dpsnr":-0.135},{"gap":"122","frame":141,"dpsnr":-0.16},{"gap":"122","frame":143,"dpsnr":-0.18},{"gap":"122","frame":145,"dpsnr":-0.2},
{"gap":"154","frame":33,"dpsnr":-0.2},{"gap":"154","frame":34,"dpsnr":-0.12},{"gap":"154","frame":35,"dpsnr":-0.075},{"gap":"154","frame":36,"dpsnr":-0.049},{"gap":"154","frame":37,"dpsnr":-0.035},{"gap":"154","frame":38,"dpsnr":-0.025},{"gap":"154","frame":40,"dpsnr":-0.011},{"gap":"154","frame":42,"dpsnr":0.000},{"gap":"154","frame":44,"dpsnr":0.008},{"gap":"154","frame":46,"dpsnr":0.014},{"gap":"154","frame":47,"dpsnr":0.018},{"gap":"154","frame":49,"dpsnr":0.022},{"gap":"154","frame":51,"dpsnr":0.025},{"gap":"154","frame":53,"dpsnr":0.028},{"gap":"154","frame":55,"dpsnr":0.030},{"gap":"154","frame":57,"dpsnr":0.033},{"gap":"154","frame":59,"dpsnr":0.035},{"gap":"154","frame":61,"dpsnr":0.038},{"gap":"154","frame":63,"dpsnr":0.036},{"gap":"154","frame":65,"dpsnr":0.040},{"gap":"154","frame":67,"dpsnr":0.042},{"gap":"154","frame":69,"dpsnr":0.039},{"gap":"154","frame":71,"dpsnr":0.043},{"gap":"154","frame":73,"dpsnr":0.040},{"gap":"154","frame":75,"dpsnr":0.042},{"gap":"154","frame":77,"dpsnr":0.038},{"gap":"154","frame":79,"dpsnr":0.041},{"gap":"154","frame":81,"dpsnr":0.037},{"gap":"154","frame":83,"dpsnr":0.040},{"gap":"154","frame":85,"dpsnr":0.038},{"gap":"154","frame":87,"dpsnr":0.035},{"gap":"154","frame":89,"dpsnr":0.038},{"gap":"154","frame":91,"dpsnr":0.036},{"gap":"154","frame":93,"dpsnr":0.039},{"gap":"154","frame":95,"dpsnr":0.036},{"gap":"154","frame":97,"dpsnr":0.033},{"gap":"154","frame":99,"dpsnr":0.035},{"gap":"154","frame":101,"dpsnr":0.032},{"gap":"154","frame":103,"dpsnr":0.035},{"gap":"154","frame":105,"dpsnr":0.033},{"gap":"154","frame":107,"dpsnr":0.034},{"gap":"154","frame":109,"dpsnr":0.033},{"gap":"154","frame":111,"dpsnr":0.030},{"gap":"154","frame":113,"dpsnr":0.028},{"gap":"154","frame":115,"dpsnr":0.025},{"gap":"154","frame":117,"dpsnr":0.024},{"gap":"154","frame":119,"dpsnr":0.023},{"gap":"154","frame":121,"dpsnr":0.020},{"gap":"154","frame":123,"dpsnr":0.016},{"gap":"154","frame":125,"dpsnr":0.013},{"gap":"154","frame":127,"dpsnr":0.010},{"gap":"154","frame":129,"dpsnr":0.008},{"gap":"154","frame":131,"dpsnr":0.006},{"gap":"154","frame":133,"dpsnr":0.004},{"gap":"154","frame":135,"dpsnr":0.002},{"gap":"154","frame":137,"dpsnr":0.000},{"gap":"154","frame":138,"dpsnr":-0.001},{"gap":"154","frame":140,"dpsnr":-0.005},{"gap":"154","frame":142,"dpsnr":-0.010},{"gap":"154","frame":144,"dpsnr":-0.016},{"gap":"154","frame":145,"dpsnr":-0.020},{"gap":"154","frame":147,"dpsnr":-0.030},{"gap":"154","frame":149,"dpsnr":-0.035},{"gap":"154","frame":151,"dpsnr":-0.033},{"gap":"154","frame":153,"dpsnr":-0.028},{"gap":"154","frame":155,"dpsnr":-0.026},{"gap":"154","frame":156,"dpsnr":-0.030},{"gap":"154","frame":158,"dpsnr":-0.040},{"gap":"154","frame":160,"dpsnr":-0.046},{"gap":"154","frame":161,"dpsnr":-0.049},{"gap":"154","frame":163,"dpsnr":-0.046},{"gap":"154","frame":165,"dpsnr":-0.040},{"gap":"154","frame":167,"dpsnr":-0.036},{"gap":"154","frame":168,"dpsnr":-0.035},{"gap":"154","frame":169,"dpsnr":-0.040},{"gap":"154","frame":171,"dpsnr":-0.050},{"gap":"154","frame":173,"dpsnr":-0.059},{"gap":"154","frame":175,"dpsnr":-0.075},{"gap":"154","frame":177,"dpsnr":-0.090},{"gap":"154","frame":179,"dpsnr":-0.110},{"gap":"154","frame":181,"dpsnr":-0.135},{"gap":"154","frame":183,"dpsnr":-0.165},{"gap":"154","frame":185,"dpsnr":-0.2},
{"gap":"186","frame":33,"dpsnr":-0.2},{"gap":"186","frame":34,"dpsnr":-0.15},{"gap":"186","frame":35,"dpsnr":-0.12},{"gap":"186","frame":36,"dpsnr":-0.098},{"gap":"186","frame":37,"dpsnr":-0.060},{"gap":"186","frame":38,"dpsnr":-0.030},{"gap":"186","frame":40,"dpsnr":-0.018},{"gap":"186","frame":42,"dpsnr":-0.010},{"gap":"186","frame":45,"dpsnr":-0.001},{"gap":"186","frame":48,"dpsnr":0.004},{"gap":"186","frame":51,"dpsnr":0.008},{"gap":"186","frame":54,"dpsnr":0.011},{"gap":"186","frame":57,"dpsnr":0.014},{"gap":"186","frame":60,"dpsnr":0.016},{"gap":"186","frame":63,"dpsnr":0.018},{"gap":"186","frame":66,"dpsnr":0.020},{"gap":"186","frame":70,"dpsnr":0.021},{"gap":"186","frame":73,"dpsnr":0.023},{"gap":"186","frame":76,"dpsnr":0.023},{"gap":"186","frame":80,"dpsnr":0.025},{"gap":"186","frame":84,"dpsnr":0.026},{"gap":"186","frame":88,"dpsnr":0.025},{"gap":"186","frame":92,"dpsnr":0.027},{"gap":"186","frame":95,"dpsnr":0.028},{"gap":"186","frame":99,"dpsnr":0.027},{"gap":"186","frame":103,"dpsnr":0.029},{"gap":"186","frame":107,"dpsnr":0.028},{"gap":"186","frame":111,"dpsnr":0.030},{"gap":"186","frame":114,"dpsnr":0.030},{"gap":"186","frame":118,"dpsnr":0.028},{"gap":"186","frame":122,"dpsnr":0.026},{"gap":"186","frame":126,"dpsnr":0.024},{"gap":"186","frame":130,"dpsnr":0.025},{"gap":"186","frame":133,"dpsnr":0.023},{"gap":"186","frame":137,"dpsnr":0.022},{"gap":"186","frame":141,"dpsnr":0.023},{"gap":"186","frame":145,"dpsnr":0.021},{"gap":"186","frame":149,"dpsnr":0.020},{"gap":"186","frame":152,"dpsnr":0.020},{"gap":"186","frame":156,"dpsnr":0.019},{"gap":"186","frame":160,"dpsnr":0.018},{"gap":"186","frame":164,"dpsnr":0.017},{"gap":"186","frame":168,"dpsnr":0.018},{"gap":"186","frame":171,"dpsnr":0.016},{"gap":"186","frame":175,"dpsnr":0.015},{"gap":"186","frame":178,"dpsnr":0.014},{"gap":"186","frame":182,"dpsnr":0.012},{"gap":"186","frame":185,"dpsnr":0.009},{"gap":"186","frame":188,"dpsnr":0.005},{"gap":"186","frame":190,"dpsnr":0.002},{"gap":"186","frame":192,"dpsnr":-0.001},{"gap":"186","frame":194,"dpsnr":-0.006},{"gap":"186","frame":196,"dpsnr":-0.011},{"gap":"186","frame":199,"dpsnr":-0.020},{"gap":"186","frame":201,"dpsnr":-0.030},{"gap":"186","frame":204,"dpsnr":-0.040},{"gap":"186","frame":206,"dpsnr":-0.049},{"gap":"186","frame":207,"dpsnr":-0.060},{"gap":"186","frame":209,"dpsnr":-0.078},{"gap":"186","frame":211,"dpsnr":-0.110},{"gap":"186","frame":213,"dpsnr":-0.150},{"gap":"186","frame":216,"dpsnr":-0.2},
{"gap":"original","frame":0,"dpsnr":0},{"gap":"original","frame":120,"dpsnr":0},{"gap":"original","frame":240,"dpsnr":0}
]
},
"columns": 3,
"spacing": {"row": 34, "column": 24.5},
"bounds": "flush",
"resolve": {"scale": {"x": "independent", "y": "independent", "color": "independent"}, "legend": {"color": "independent"}},
"concat": [
{"width": 184, "height": 136, "layer": [
 {"data": {"name": "p1"}, "mark": {"type": "line", "strokeWidth": 1, "clip": true},
  "encoding": {
   "x": {"field": "frame", "type": "quantitative", "scale": {"domain": [-18, 308], "nice": false, "zero": false}, "axis": {"values": [0,50,100,150,200,250,300], "title": null, "labelOverlap": false}},
   "y": {"field": "dpsnr", "type": "quantitative", "scale": {"domain": [-0.2, 0.2], "nice": false}, "axis": {"values": [-0.2,-0.15,-0.1,-0.05,0,0.05,0.1,0.15,0.2], "format": ".2f", "title": "ΔPSNR (dB)", "labelOverlap": false}},
   "color": {"field": "gap", "type": "nominal", "scale": {"domain": ["90","122","154","186","original"], "range": ["#1f77b4","#ff7f0e","#2ca02c","#d62728","#9467bd"]}, "legend": {"labelExpr": "'Gap ' + datum.label + ' and original'"}}
  }},
 {"data": {"values": [{}]}, "mark": {"type": "text", "text": "a) shift 0", "align": "left", "baseline": "middle", "fontWeight": "bold", "fontSize": 8.5}, "encoding": {"x": {"datum": 1, "type": "quantitative", "axis": {"values": [0,50,100,150,200,250,300], "title": null, "labelOverlap": false}}, "y": {"datum": 0.167, "type": "quantitative", "axis": {"values": [-0.2,-0.15,-0.1,-0.05,0,0.05,0.1,0.15,0.2], "format": ".2f", "title": "ΔPSNR (dB)", "labelOverlap": false}}}},
 {"data": {"values": [{}]}, "mark": {"type": "text", "text": "Video #201", "align": "right", "baseline": "middle", "fontSize": 10.5}, "encoding": {"x": {"datum": 304, "type": "quantitative", "axis": {"values": [0,50,100,150,200,250,300], "title": null, "labelOverlap": false}}, "y": {"datum": 0.174, "type": "quantitative", "axis": {"values": [-0.2,-0.15,-0.1,-0.05,0,0.05,0.1,0.15,0.2], "format": ".2f", "title": "ΔPSNR (dB)", "labelOverlap": false}}}},
 {"data": {"values": [{}]}, "mark": {"type": "text", "text": "Frame index", "align": "right", "baseline": "alphabetic", "fontSize": 8}, "encoding": {"x": {"datum": 300, "type": "quantitative", "axis": {"values": [0,50,100,150,200,250,300], "title": null, "labelOverlap": false}}, "y": {"datum": 0.003, "type": "quantitative", "axis": {"values": [-0.2,-0.15,-0.1,-0.05,0,0.05,0.1,0.15,0.2], "format": ".2f", "title": "ΔPSNR (dB)", "labelOverlap": false}}}}
]},
{"width": 184, "height": 136, "layer": [
 {"data": {"name": "p2"}, "mark": {"type": "line", "strokeWidth": 1, "clip": true},
  "encoding": {
   "x": {"field": "frame", "type": "quantitative", "scale": {"domain": [-14, 313], "nice": false, "zero": false}, "axis": {"values": [0,50,100,150,200,250,300], "title": null, "labelOverlap": false}},
   "y": {"field": "dpsnr", "type": "quantitative", "scale": {"domain": [-0.2, 0.2], "nice": false}, "axis": {"values": [-0.2,-0.15,-0.1,-0.05,0,0.05,0.1,0.15,0.2], "format": ".2f", "title": null, "labelOverlap": false}},
   "color": {"field": "gap", "type": "nominal", "scale": {"domain": ["90","122","154","186","original"], "range": ["#1f77b4","#ff7f0e","#2ca02c","#d62728","#9467bd"]}, "legend": {"labelExpr": "'Gap ' + datum.label + ' and original'"}}
  }},
 {"data": {"values": [{}]}, "mark": {"type": "text", "text": "Video #202", "align": "right", "baseline": "middle", "fontSize": 10.5}, "encoding": {"x": {"datum": 306, "type": "quantitative", "axis": {"values": [0,50,100,150,200,250,300], "title": null, "labelOverlap": false}}, "y": {"datum": 0.171, "type": "quantitative", "axis": {"values": [-0.2,-0.15,-0.1,-0.05,0,0.05,0.1,0.15,0.2], "format": ".2f", "title": null, "labelOverlap": false}}}}
]},
{"width": 184, "height": 136, "layer": [
 {"data": {"name": "p3"}, "mark": {"type": "line", "strokeWidth": 1, "clip": true},
  "encoding": {
   "x": {"field": "frame", "type": "quantitative", "scale": {"domain": [-11, 252], "nice": false, "zero": false}, "axis": {"values": [0,50,100,150,200,250], "title": null, "labelOverlap": false}},
   "y": {"field": "dpsnr", "type": "quantitative", "scale": {"domain": [-0.2, 0.2], "nice": false}, "axis": {"values": [-0.2,-0.15,-0.1,-0.05,0,0.05,0.1,0.15,0.2], "format": ".2f", "title": null, "labelOverlap": false}},
   "color": {"field": "gap", "type": "nominal", "scale": {"domain": ["90","122","154","186","original"], "range": ["#1f77b4","#ff7f0e","#2ca02c","#d62728","#9467bd"]}, "legend": {"labelExpr": "'Gap ' + datum.label + ' and original'"}}
  }},
 {"data": {"values": [{}]}, "mark": {"type": "text", "text": "Video #208", "align": "right", "baseline": "middle", "fontSize": 10.5}, "encoding": {"x": {"datum": 243, "type": "quantitative", "axis": {"values": [0,50,100,150,200,250], "title": null, "labelOverlap": false}}, "y": {"datum": 0.168, "type": "quantitative", "axis": {"values": [-0.2,-0.15,-0.1,-0.05,0,0.05,0.1,0.15,0.2], "format": ".2f", "title": null, "labelOverlap": false}}}}
]},
{"width": 184, "height": 136, "layer": [
 {"data": {"name": "p4"}, "mark": {"type": "line", "strokeWidth": 1, "clip": true},
  "encoding": {
   "x": {"field": "frame", "type": "quantitative", "scale": {"domain": [-15, 309], "nice": false, "zero": false}, "axis": {"values": [0,50,100,150,200,250,300], "title": null, "labelOverlap": false}},
   "y": {"field": "dpsnr", "type": "quantitative", "scale": {"domain": [-0.2, 0.2], "nice": false}, "axis": {"values": [-0.2,-0.15,-0.1,-0.05,0,0.05,0.1,0.15,0.2], "format": ".2f", "title": "ΔPSNR (dB)", "labelOverlap": false}},
   "color": {"field": "gap", "type": "nominal", "scale": {"domain": ["90","122","154","186","original"], "range": ["#1f77b4","#ff7f0e","#2ca02c","#d62728","#9467bd"]}, "legend": {"labelExpr": "'Gap ' + datum.label + ' and original'"}}
  }},
 {"data": {"values": [{}]}, "mark": {"type": "text", "text": "b) shift 32", "align": "left", "baseline": "middle", "fontWeight": "bold", "fontSize": 8.5}, "encoding": {"x": {"datum": 2, "type": "quantitative", "axis": {"values": [0,50,100,150,200,250,300], "title": null, "labelOverlap": false}}, "y": {"datum": 0.152, "type": "quantitative", "axis": {"values": [-0.2,-0.15,-0.1,-0.05,0,0.05,0.1,0.15,0.2], "format": ".2f", "title": "ΔPSNR (dB)", "labelOverlap": false}}}},
 {"data": {"values": [{}]}, "mark": {"type": "text", "text": "Frame index", "align": "right", "baseline": "alphabetic", "fontSize": 8}, "encoding": {"x": {"datum": 291, "type": "quantitative", "axis": {"values": [0,50,100,150,200,250,300], "title": null, "labelOverlap": false}}, "y": {"datum": 0.006, "type": "quantitative", "axis": {"values": [-0.2,-0.15,-0.1,-0.05,0,0.05,0.1,0.15,0.2], "format": ".2f", "title": "ΔPSNR (dB)", "labelOverlap": false}}}}
]},
{"width": 184, "height": 136, "layer": [
 {"data": {"name": "p5"}, "mark": {"type": "line", "strokeWidth": 1, "clip": true},
  "encoding": {
   "x": {"field": "frame", "type": "quantitative", "scale": {"domain": [-14, 314], "nice": false, "zero": false}, "axis": {"values": [0,50,100,150,200,250,300], "title": null, "labelOverlap": false}},
   "y": {"field": "dpsnr", "type": "quantitative", "scale": {"domain": [-0.2, 0.2], "nice": false}, "axis": {"values": [-0.2,-0.15,-0.1,-0.05,0,0.05,0.1,0.15,0.2], "format": ".2f", "title": null, "labelOverlap": false}},
   "color": {"field": "gap", "type": "nominal", "scale": {"domain": ["90","122","154","186","original"], "range": ["#1f77b4","#ff7f0e","#2ca02c","#d62728","#9467bd"]}, "legend": {"labelExpr": "'Gap ' + datum.label + ' and original'"}}
  }}
]},
{"width": 184, "height": 136, "layer": [
 {"data": {"name": "p6"}, "mark": {"type": "line", "strokeWidth": 1, "clip": true},
  "encoding": {
   "x": {"field": "frame", "type": "quantitative", "scale": {"domain": [-10.5, 252], "nice": false, "zero": false}, "axis": {"values": [0,50,100,150,200,250], "title": null, "labelOverlap": false}},
   "y": {"field": "dpsnr", "type": "quantitative", "scale": {"domain": [-0.2, 0.2], "nice": false}, "axis": {"values": [-0.2,-0.15,-0.1,-0.05,0,0.05,0.1,0.15,0.2], "format": ".2f", "title": null, "labelOverlap": false}},
   "color": {"field": "gap", "type": "nominal", "scale": {"domain": ["90","122","154","186","original"], "range": ["#1f77b4","#ff7f0e","#2ca02c","#d62728","#9467bd"]}, "legend": {"labelExpr": "'Gap ' + datum.label + ' and original'"}}
  }}
]}
]
}
